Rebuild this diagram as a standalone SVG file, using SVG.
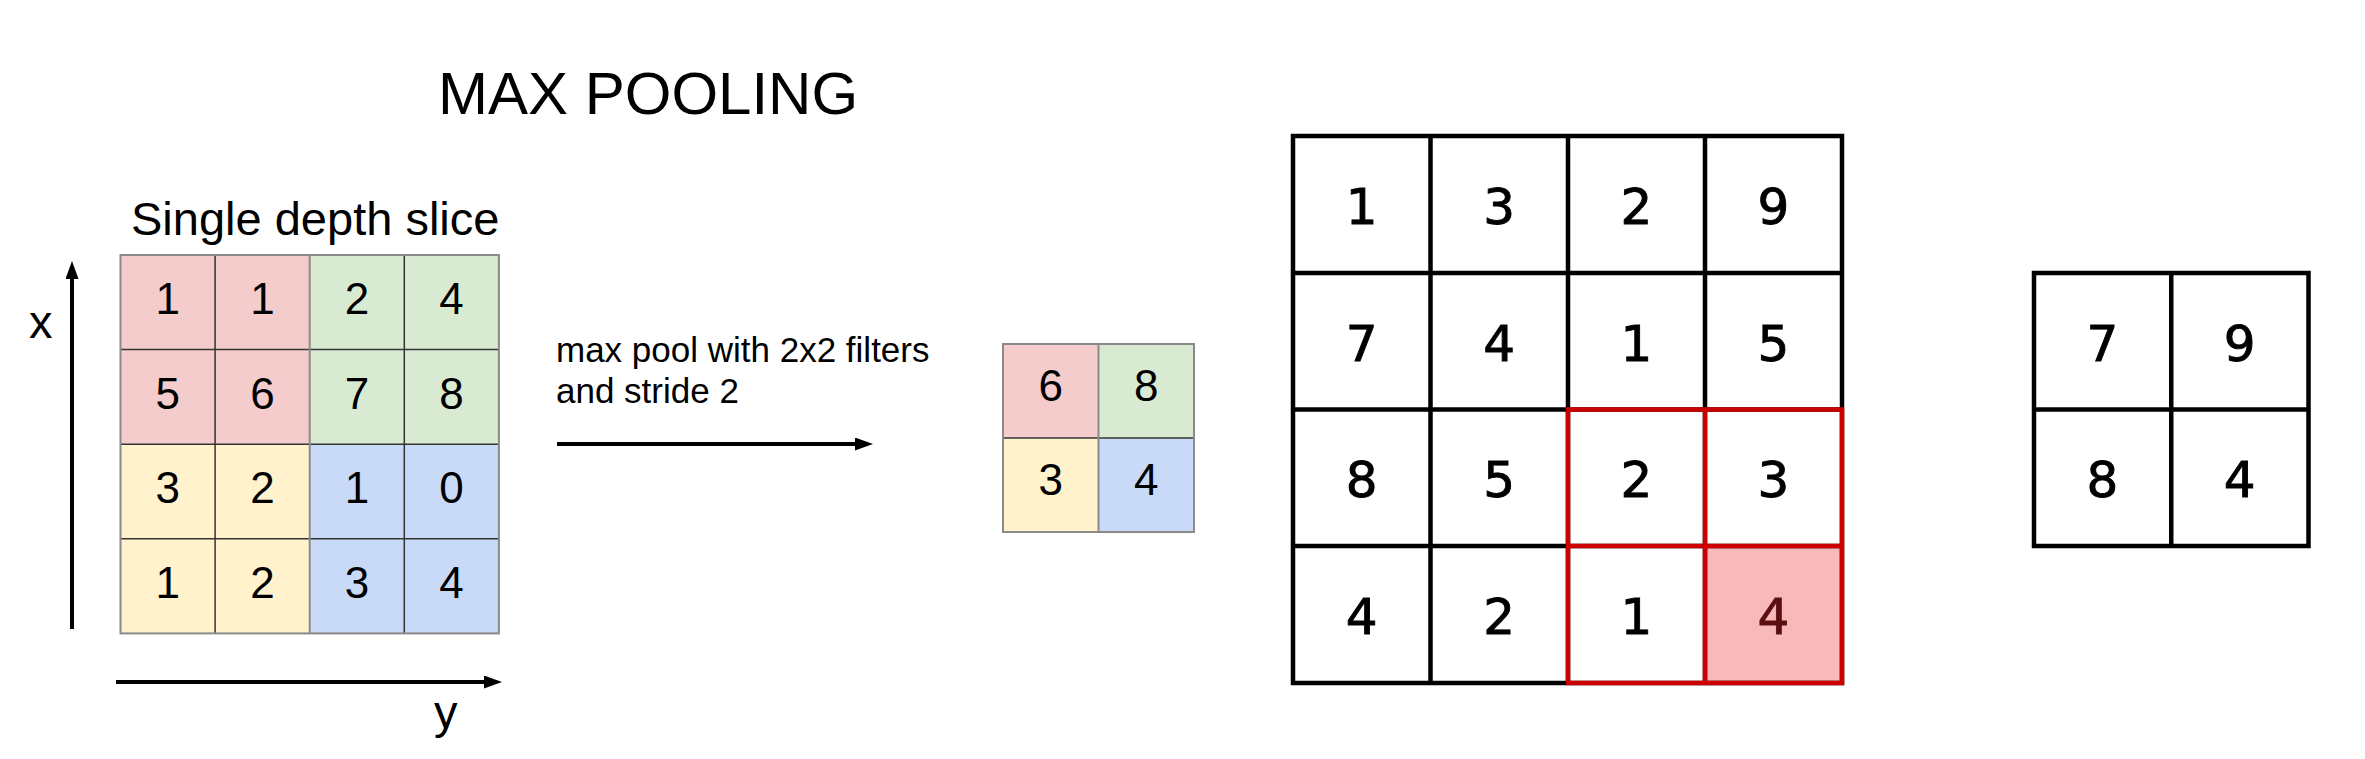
<svg xmlns="http://www.w3.org/2000/svg" width="2365" height="759" viewBox="0 0 2365 759">
<style>
.sans{font-family:"Liberation Sans",Arial,sans-serif;fill:#000}
.num{font-family:"Liberation Sans",Arial,sans-serif;font-size:44px;text-anchor:middle;fill:#000}
.bnum{font-family:"DejaVu Sans",sans-serif;font-size:50px;text-anchor:middle;fill:#000;stroke:#000;stroke-width:0.9}
.pink{fill:#f4cccc}.green{fill:#d9ead3}.yellow{fill:#fff2cc}.blue{fill:#c9daf8}
.thin{stroke:#333;stroke-width:1.5;fill:none}
.gray{stroke:#8a8a8a;stroke-width:2;fill:none}
.bold{stroke:#000;stroke-width:4.5;fill:none;stroke-linecap:square}
.red{stroke:#cc0000;stroke-width:4.5;fill:none;stroke-linecap:square}
.arrow{stroke:#000;stroke-width:4;fill:none}
</style>
<defs>
<marker id="ah" viewBox="0 0 18 13" refX="8" refY="6.5" markerWidth="18" markerHeight="13" markerUnits="userSpaceOnUse" orient="auto">
<path d="M0,0 L18,6.5 L0,13 Z" fill="#000"/>
</marker>
</defs>
<rect width="2365" height="759" fill="#fff"/>

<g id="title">
<text class="sans" x="438" y="114" font-size="60">MAX POOLING</text>
</g>

<g id="slice-label">
<text class="sans" x="131" y="235" font-size="47">Single depth slice</text>
</g>

<g id="axis-labels">
<text class="sans" x="29" y="338" font-size="47">x</text>
<text class="sans" x="434" y="728" font-size="47">y</text>
</g>

<g id="op-label">
<text class="sans" x="556" y="362" font-size="35">max pool with 2x2 filters</text>
<text class="sans" x="556" y="403" font-size="35">and stride 2</text>
</g>

<g id="input-grid">
<rect class="pink" x="120.5" y="255" width="189.2" height="189.2"/>
<rect class="green" x="309.7" y="255" width="189.2" height="189.2"/>
<rect class="yellow" x="120.5" y="444.2" width="189.2" height="189.2"/>
<rect class="blue" x="309.7" y="444.2" width="189.2" height="189.2"/>
<path class="thin" d="M215.1,255V633.4M404.3,255V633.4M120.5,349.6H498.9M120.5,444.2H498.9M120.5,538.8H498.9"/>
<path class="gray" d="M309.7,255V633.4"/>
<rect class="gray" x="120.5" y="255" width="378.4" height="378.4"/>
<text class="num" x="167.8" y="314">1</text>
<text class="num" x="262.4" y="314">1</text>
<text class="num" x="357" y="314">2</text>
<text class="num" x="451.6" y="314">4</text>
<text class="num" x="167.8" y="408.5">5</text>
<text class="num" x="262.4" y="408.5">6</text>
<text class="num" x="357" y="408.5">7</text>
<text class="num" x="451.6" y="408.5">8</text>
<text class="num" x="167.8" y="503">3</text>
<text class="num" x="262.4" y="503">2</text>
<text class="num" x="357" y="503">1</text>
<text class="num" x="451.6" y="503">0</text>
<text class="num" x="167.8" y="597.5">1</text>
<text class="num" x="262.4" y="597.5">2</text>
<text class="num" x="357" y="597.5">3</text>
<text class="num" x="451.6" y="597.5">4</text>
</g>

<g id="pooled-grid">
<rect class="pink" x="1003" y="344" width="95.5" height="94"/>
<rect class="green" x="1098.5" y="344" width="95.5" height="94"/>
<rect class="yellow" x="1003" y="438" width="95.5" height="94"/>
<rect class="blue" x="1098.5" y="438" width="95.5" height="94"/>
<path class="thin" d="M1003,438H1194"/>
<path class="gray" d="M1098.5,344V532"/>
<rect class="gray" x="1003" y="344" width="191" height="188"/>
<text class="num" x="1050.75" y="401">6</text>
<text class="num" x="1146.25" y="401">8</text>
<text class="num" x="1050.75" y="495">3</text>
<text class="num" x="1146.25" y="495">4</text>
</g>

<g id="feature-grid">
<rect x="1293" y="136" width="549" height="547" fill="#fff"/>
<rect x="1705" y="546" width="137" height="137" fill="#f9b9bb"/>
<path class="bold" d="M1293,136H1842V683H1293Z M1430.5,136V683M1568,136V683M1705,136V683M1293,273H1842M1293,409.5H1842M1293,546H1842"/>
<path class="red" d="M1568,409.5H1842V683H1568Z M1705,409.5V683M1568,546H1842"/>
<text class="bnum" x="1361.75" y="224">1</text>
<text class="bnum" x="1499.25" y="224">3</text>
<text class="bnum" x="1636.5" y="224">2</text>
<text class="bnum" x="1773.5" y="224">9</text>
<text class="bnum" x="1361.75" y="360.5">7</text>
<text class="bnum" x="1499.25" y="360.5">4</text>
<text class="bnum" x="1636.5" y="360.5">1</text>
<text class="bnum" x="1773.5" y="360.5">5</text>
<text class="bnum" x="1361.75" y="497">8</text>
<text class="bnum" x="1499.25" y="497">5</text>
<text class="bnum" x="1636.5" y="497">2</text>
<text class="bnum" x="1773.5" y="497">3</text>
<text class="bnum" x="1361.75" y="634">4</text>
<text class="bnum" x="1499.25" y="634">2</text>
<text class="bnum" x="1636.5" y="634">1</text>
<text class="bnum" x="1773.5" y="634" style="fill:#5a1010;stroke:#5a1010">4</text>
</g>

<g id="result-grid">
<path class="bold" d="M2034,273H2308.5V546H2034Z M2171.25,273V546M2034,409.5H2308.5"/>
<text class="bnum" x="2102.5" y="360.5">7</text>
<text class="bnum" x="2239.75" y="360.5">9</text>
<text class="bnum" x="2102.5" y="497">8</text>
<text class="bnum" x="2239.75" y="497">4</text>
</g>

<g id="connectors">
<line class="arrow" x1="72" y1="629" x2="72" y2="271" marker-end="url(#ah)"/>
<line class="arrow" x1="116" y1="682" x2="492" y2="682" marker-end="url(#ah)"/>
<line class="arrow" x1="557" y1="444" x2="863" y2="444" marker-end="url(#ah)"/>
</g>
</svg>
